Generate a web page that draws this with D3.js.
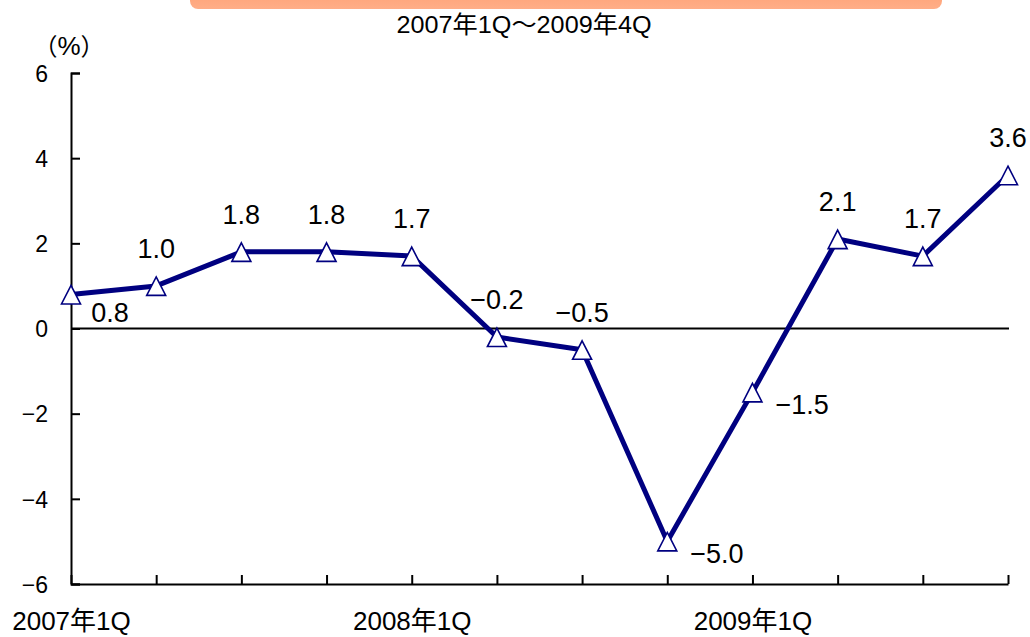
<!DOCTYPE html>
<html>
<head>
<meta charset="utf-8">
<script src="https://cdn.jsdelivr.net/npm/d3@7"></script>
<style>
  html, body { margin: 0; padding: 0; background: #fff; }
  svg { display: block; }
  text { font-family: "Liberation Sans", Arial, "Noto Sans CJK JP", sans-serif; fill: #000; }
</style>
</head>
<body>
<svg id="chart" width="1030" height="637"></svg>
<script>
// ---- data ----
const categories = [
  "2007年1Q", "2007年2Q", "2007年3Q", "2007年4Q",
  "2008年1Q", "2008年2Q", "2008年3Q", "2008年4Q",
  "2009年1Q", "2009年2Q", "2009年3Q", "2009年4Q"
];
const values = [0.8, 1.0, 1.8, 1.8, 1.7, -0.2, -0.5, -5.0, -1.5, 2.1, 1.7, 3.6];
const labelTexts = ["0.8", "1.0", "1.8", "1.8", "1.7", "−0.2", "−0.5", "−5.0", "−1.5", "2.1", "1.7", "3.6"];
const labelPlacement = ["belowRight", "above", "above", "above", "above", "above", "above", "right", "right", "above", "above", "above"];
const yTicks = [6, 4, 2, 0, -2, -4, -6];
const xTickLabels = ["2007年1Q", "2008年1Q", "2009年1Q"];
const subtitle = "2007年1Q～2009年4Q";
const unitParts = ["（", "%", "）"];

// ---- layout ----
const svg = d3.select("#chart");
const plotLeft = 71, plotRight = 1008, plotTop = 73, plotBottom = 584;
const navy = "#000080";

const x = d3.scaleLinear().domain([0, categories.length - 1]).range([plotLeft, plotRight]);
const y = d3.scaleLinear().domain([-6, 6]).range([plotBottom, plotTop]);

// orange header bar (cut off at top)
const defs = svg.append("defs");
const grad = defs.append("linearGradient").attr("id", "hdr").attr("x1", 0).attr("y1", 0).attr("x2", 0).attr("y2", 1);
grad.append("stop").attr("offset", "0%").attr("stop-color", "#ff9a6a");
grad.append("stop").attr("offset", "100%").attr("stop-color", "#ffae88");
svg.append("rect").attr("x", 190).attr("y", -20).attr("width", 752).attr("height", 29)
  .attr("rx", 8).attr("fill", "url(#hdr)");

// subtitle
svg.append("text").attr("x", 524).attr("y", 33).attr("text-anchor", "middle")
  .style("font-size", "24px").attr("textLength", 255).attr("lengthAdjust", "spacingAndGlyphs")
  .text(subtitle);

// unit label
const unit = svg.append("text").attr("x", 69).attr("y", 55).attr("text-anchor", "middle")
  .attr("font-size", 26).style("font-size", "26px");
unit.selectAll("tspan").data(unitParts).enter().append("tspan")
  .style("font-family", (d, i) => i === 1 ? "'Liberation Sans', Arial, sans-serif" : "'Noto Sans CJK JP', sans-serif")
  .style("font-size", (d, i) => i === 1 ? "26px" : "24px")
  .text(d => d);

// y axis
const yAxis = d3.axisLeft(y).tickValues(yTicks).tickSize(-9).tickPadding(23)
  .tickFormat(d => d < 0 ? "−" + Math.abs(d) : String(d));
const gy = svg.append("g").attr("transform", `translate(${plotLeft},0)`).call(yAxis);
gy.select(".domain").attr("stroke", "#000").attr("stroke-width", 2);
gy.selectAll(".tick line").attr("stroke", "#000").attr("stroke-width", 2);
gy.selectAll(".tick text").style("font-size", "23px").attr("font-family", null).attr("dy", "0.36em");

// x axis
const xAxis = d3.axisBottom(x).tickValues(d3.range(categories.length)).tickSize(-9).tickSizeOuter(0)
  .tickFormat(i => xTickLabels.includes(categories[i]) ? categories[i] : "");
const gx = svg.append("g").attr("transform", `translate(0,${plotBottom})`).call(xAxis);
gx.select(".domain").attr("stroke", "#000").attr("stroke-width", 2);
gx.selectAll(".tick line").attr("stroke", "#000").attr("stroke-width", 2);
gx.selectAll(".tick text").style("font-size", "26px").attr("font-family", null)
  .attr("dy", null).attr("y", 46);

// zero line
svg.append("line").attr("x1", plotLeft).attr("x2", plotRight + 1).attr("y1", y(0)).attr("y2", y(0))
  .attr("stroke", "#000").attr("stroke-width", 1.8);

// series line
const line = d3.line().x((d, i) => x(i)).y(d => y(d));
svg.append("path").datum(values).attr("d", line)
  .attr("fill", "none").attr("stroke", navy).attr("stroke-width", 5).attr("stroke-linejoin", "round");

// markers
svg.selectAll(".mk").data(values).enter().append("path")
  .attr("class", "mk")
  .attr("transform", (d, i) => `translate(${x(i)},${y(d)})`)
  .attr("d", "M0,-9 L9.5,9.5 L-9.5,9.5 Z")
  .attr("fill", "#fff").attr("stroke", navy).attr("stroke-width", 1.6);

// data labels
const place = {
  above: { dx: 0, dy: -28, anchor: "middle" },
  belowRight: { dx: 39, dy: 28, anchor: "middle" },
  right: { dx: 23, dy: 22, anchor: "start" }
};
svg.selectAll(".lbl").data(values).enter().append("text")
  .attr("class", "lbl")
  .attr("x", (d, i) => x(i) + place[labelPlacement[i]].dx)
  .attr("y", (d, i) => y(d) + place[labelPlacement[i]].dy)
  .attr("text-anchor", (d, i) => place[labelPlacement[i]].anchor)
  .style("font-size", "27px")
  .text((d, i) => labelTexts[i]);
</script>
</body>
</html>
